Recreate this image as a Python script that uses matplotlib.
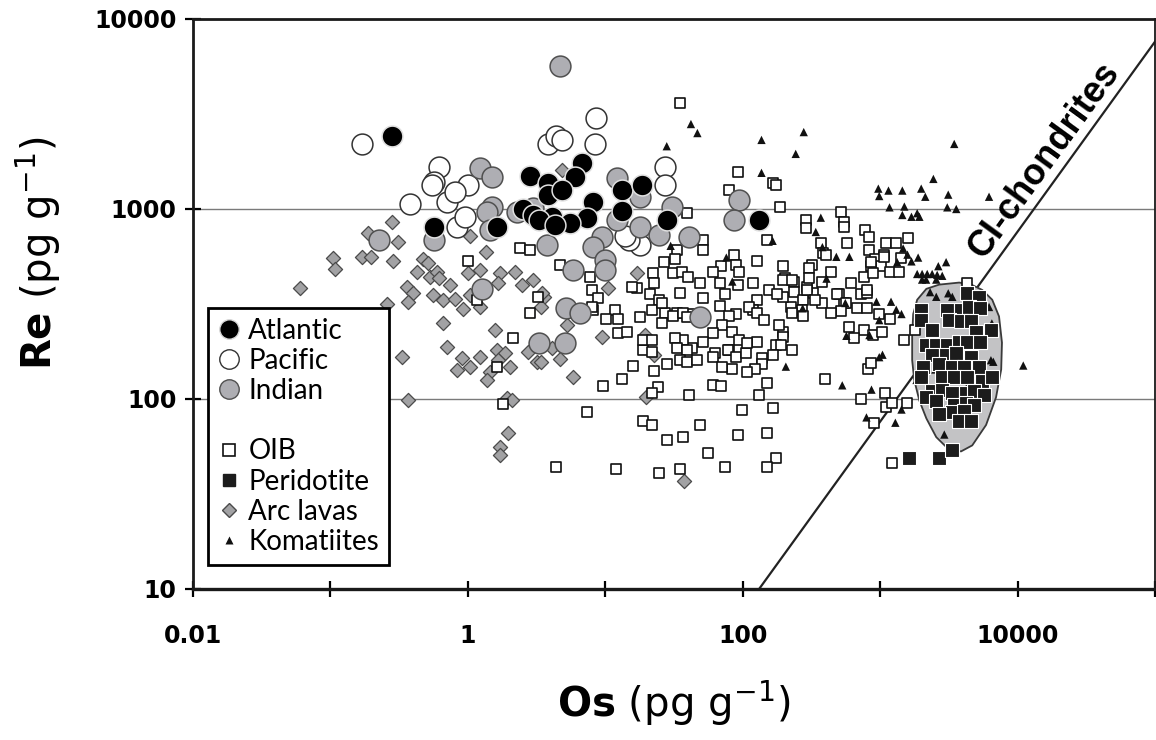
import matplotlib
matplotlib.use("Agg")
import matplotlib.pyplot as plt
from matplotlib.lines import Line2D
from matplotlib.patches import Polygon
from matplotlib.ticker import FixedLocator, FixedFormatter, NullLocator

# ---------------- data (Os, Re in pg/g) ----------------
atlantic_os = [0.28, 0.57, 1.62, 2.81, 3.8, 3.8, 2.5, 2.96, 4.1, 6.8, 6.0, 4.85, 8.1, 7.3, 5.5,
               13.2, 18.6, 13.2, 28, 132, 3.3, 4.3]
atlantic_re = [2430, 800, 800, 1500, 1370, 1190, 1000, 930, 910, 1750, 1470, 1260, 1090, 900, 840,
               1260, 1330, 980, 870, 870, 870, 820]

pacific_os = [0.17, 0.62, 0.57, 0.55, 1.0, 0.71, 0.38, 0.83, 0.95, 3.8, 4.4, 4.85, 8.6, 8.4,
              27, 27, 18, 15, 14, 0.8]
pacific_re = [2200, 1660, 1390, 1330, 1330, 1090, 1060, 800, 910, 2200, 2410, 2310, 3010, 2200,
              1660, 1330, 650, 690, 720, 1230]

indian_os = [4.65, 0.225, 1.22, 1.51, 1.51, 1.37, 1.44, 0.57, 3.74, 1.26, 2.26, 12.2, 18, 12.2,
             18, 9.5, 8.1, 10, 5.8, 10, 41, 24.8, 30.5, 94, 87, 5.2, 6.5, 49, 3.3, 5.05, 2.96]
indian_re = [5660, 690, 1640, 1480, 1020, 970, 775, 690, 650, 380, 960, 1450, 1160, 870,
             800, 710, 630, 540, 480, 480, 710, 730, 1020, 1110, 870, 300, 284, 270, 198, 198, 1010]

arc_os = [0.060, 0.104, 0.108, 0.17, 0.197, 0.28, 0.31, 0.187, 0.285, 0.43, 0.47, 0.51, 0.53,
          0.60, 0.62, 0.74, 0.36, 0.40, 0.365, 0.26, 0.555, 0.66, 0.80, 0.92, 1.0, 1.22, 1.35,
          1.03, 1.70, 2.19, 2.46, 2.96, 1.66, 1.03, 1.22, 3.6, 3.4, 0.66, 0.33, 0.71, 0.90, 0.83,
          1.03, 1.22, 1.57, 1.62, 1.85, 1.66, 1.44, 1.37, 2.01, 2.72, 3.2, 0.365, 1.93, 2.10,
          1.97, 1.70, 1.70, 4.1, 4.85, 16.9, 10.4, 3.45, 9.5, 19.3, 22.8, 5.8, 4.65, 5.3, 19.7,
          37.6, 3.4]
arc_re = [384, 552, 483, 559, 559, 855, 670, 748, 532, 466, 546, 520, 439,
          466, 434, 398, 388, 361, 324, 316, 353, 332, 336, 298, 460, 480, 594,
          721, 460, 466, 398, 423, 408, 353, 305, 344, 305, 251, 166, 188, 164, 142,
          147, 166, 231, 181, 175, 160, 139, 126, 147, 177, 157, 99, 101, 99,
          66, 56, 51, 185, 1600, 460, 384, 361, 212, 217, 171, 131, 162, 245, 103,
          37, 157]

oib_os = [35, 93, 165, 176, 187, 39, 80, 522, 287, 287, 549, 549, 149, 51, 51, 33.5, 32, 26.6,
          22.4, 781, 836, 578, 373, 386, 407, 1110, 1310, 1600, 836, 1070, 911, 2.39, 2.82, 1.0,
          4.66, 87, 126, 70, 90,
          865, 1020, 1170, 1380, 1430, 1070, 865, 442, 317, 195, 618, 768, 880, 730, 808, 505,
          549, 380, 322, 296, 238, 202, 238, 273, 226, 268, 195, 306, 306, 380, 292, 333, 488,
          568, 522, 442, 808, 681, 808, 985, 1170, 4300, 16.9, 15.6, 22.8, 21, 24.8, 30.9, 36,
          39.7, 34.8, 48.5, 51, 60.5, 67.9, 73.7, 94.5, 91.8, 118, 156, 126, 195, 230, 178,
          7.71, 8.0, 8.8, 3.23, 1.16,
          8.1, 11.7, 22, 27, 33, 42.4, 90, 118, 10.2, 12.3, 17.8, 25.7, 25.7, 30.9, 36.6, 39,
          67.9, 80, 71, 60.5, 84, 112, 128, 144, 230, 195, 195, 176, 126, 94.5, 80, 62.5, 51,
          43, 36.6, 32, 33.5, 39, 12.3, 14.5, 18.7, 21.7, 18.7, 21.7, 2.82, 8.0, 2.12, 597, 768,
          650, 880, 1040, 273, 1500, 1800, 190, 230, 185, 2830,
          34.8, 39, 46.8, 60.5, 77.5, 90, 106.5, 108, 139, 165, 137, 122, 108, 84, 71, 28.3,
          22.8, 15.8, 13.2, 9.6, 1.62, 24, 21.7, 41, 60.5, 70, 151, 132, 822, 865, 400, 730,
          1090, 1110, 1220, 1580,
          1.80, 7.33, 18.7, 21.7, 28, 36.6, 48.5, 55.5, 99.6, 165, 93, 151, 176, 149, 73.7,
          34.8, 24.8, 11.9, 4.36, 895, 1220]
oib_re = [3600, 1560, 1370, 1330, 1020, 950, 1260, 970, 870, 790, 855, 800, 690, 690, 610, 610,
          545, 525, 460, 775, 710, 665, 665, 590, 575, 665, 665, 700, 610, 575, 545, 620, 610,
          530, 510, 575, 530, 500, 510,
          500, 500, 465, 465, 555, 560, 525, 465, 510, 500, 410, 440, 460, 355, 360, 355,
          320, 320, 360, 390, 415, 435, 365, 333, 305, 295, 345, 490, 435, 415, 375, 333, 355,
          320, 290, 285, 375, 300, 300, 280, 265, 410, 385, 390, 410, 355, 333, 460, 465,
          440, 360, 410, 340, 465, 410, 355, 465, 400, 410, 375, 333, 425, 425, 355,
          440, 375, 340, 345, 333,
          295, 295, 295, 285, 285, 280, 280, 295, 265, 265, 270, 320, 250, 272, 285, 270,
          310, 272, 245, 222, 225, 305, 285, 260, 285, 225, 212, 193, 200, 205, 181, 175, 200,
          185, 205, 210, 185, 181, 222, 225, 181, 177, 205, 205, 285, 305, 210, 240, 232,
          210, 217, 225, 272, 205, 230, 193, 181, 245, 152,
          160, 157, 160, 166, 181, 166, 175, 198, 164, 171, 152, 143, 138, 143, 147, 152,
          140, 150, 128, 117, 147, 115, 108, 105, 119, 117, 122, 105, 143, 155, 128, 100,
          108, 91, 95, 95,
          94, 85, 77, 73, 61, 63, 73, 52, 88, 90, 65, 66, 49, 44, 44,
          43, 41, 43, 44, 75, 46]

peridotite_os = [4300, 5260, 1990, 1990, 3080, 3880, 4450, 5350, 2370, 3180, 3880, 4600, 5000,
                 6430, 2170, 2560, 3080, 3760, 4300, 5350, 2370, 3030, 3580, 4600, 2060, 2690,
                 3350, 4090, 5260, 1990, 2830, 3460, 4300, 5530, 6540, 2370, 2830, 3350, 4230,
                 4840, 5720, 2170, 2560, 3460, 4230, 4840, 3350, 4090, 2690, 3760, 4600, 1630,
                 2690, 3350]
peridotite_re = [360, 345, 295, 260, 295, 295, 305, 300, 232, 260, 257, 257, 225,
                 232, 193, 193, 193, 200, 200, 200, 171, 171, 175, 166, 148, 152,
                 148, 147, 148, 130, 130, 131, 130, 124, 131, 110, 112, 108, 108,
                 110, 105, 102, 98, 93, 95, 93, 85, 86, 83, 77, 77, 49,
                 49, 54]

komatiite_os = [42, 46.8, 28, 137, 278, 243, 137, 3460, 2440, 970, 1150, 1450, 1990, 2130,
                3130, 6200, 985, 1170, 1500, 3080, 3580, 1450, 1860, 1690, 1930, 370, 340, 380,
                165, 29.9, 76, 84, 480, 597, 1470, 1580, 1330, 1690, 1890, 3020, 2650, 1860,
                2020, 2200, 2390, 2600, 2830, 2020, 2160, 2560, 2310, 2560, 3130, 3350, 407,
                558, 940, 1200, 1310, 1430, 985, 836, 568, 1040, 985, 273, 206, 530, 865, 795,
                1290, 1430, 11000, 2930, 6660, 6200, 6500, 6400, 1840, 2520, 4450, 4230]
komatiite_re = [2800, 2510, 2140, 2310, 2540, 1950, 1550, 2200, 1440, 1280, 1250, 1250, 1280,
                1160, 1190, 1160, 1170, 1020, 1030, 1020, 1000, 930, 950, 910, 910, 900, 757,
                630, 680, 640, 555, 415, 560, 560, 620, 575, 525, 530, 555, 525, 500, 455,
                455, 455, 455, 450, 445, 425, 425, 425, 365, 345, 360, 345, 430,
                320, 325, 325, 295, 280, 260, 217, 215, 171, 166, 300, 148, 118, 112, 80,
                75, 88, 150, 65, 157, 305, 250, 160, 126, 143, 122, 166]

# Peridotite field outline (Os, Re)
field_os = [3760, 2690, 2170, 1860, 1740, 1710, 1710, 1770, 1930, 2170, 2560, 3180, 3880, 4680,
            5900, 6970, 7600, 7700, 7330, 6540, 5530, 4600]
field_re = [410, 400, 380, 333, 280, 217, 160, 126, 98, 79, 63, 54, 53, 57,
            73, 102, 143, 198, 272, 333, 375, 400]

ci_re_os_ratio = 0.076   # CI-chondrite Re/Os
x_ticks = [0.01, 0.1, 1, 10, 100, 1000, 10000, 100000]
x_labels = ["0.01", "", "1", "", "100", "", "10000", ""]
y_ticks = [10, 100, 1000, 10000]
y_labels = ["10", "100", "1000", "10000"]

# ---------------- figure ----------------
W, H = 1156, 740
fig = plt.figure(figsize=(W / 100, H / 100), dpi=100)
ax = fig.add_axes([193 / W, 1 - 589 / H, (1155 - 193) / W, (589 - 19) / H])
ax.set_xscale("log")
ax.set_yscale("log")
ax.set_xlim(0.01, 1e5)
ax.set_ylim(10, 1e4)

for yv in (100, 1000):
    ax.axhline(yv, color="#7a7a7a", lw=1.0, zorder=0.5)

# CI chondrite line
ci_os = [10 / ci_re_os_ratio, 2e5]
ax.plot(ci_os, [v * ci_re_os_ratio for v in ci_os], color="#222222", lw=1.6, zorder=1)

# peridotite field
ax.add_patch(Polygon(list(zip(field_os, field_re)), closed=True, facecolor="#c3c3c5",
                     edgecolor="#3a3a3a", lw=1.3, zorder=1.2))

ax.scatter(arc_os, arc_re, marker="D", s=52, facecolor="#a2a2a4", edgecolor="#4a4a4a",
           lw=0.9, zorder=2)
ax.scatter(oib_os, oib_re, marker="s", s=62, facecolor="white", edgecolor="#111111",
           lw=1.2, zorder=3)
ax.scatter(komatiite_os, komatiite_re, marker="^", s=36, facecolor="#111111",
           edgecolor="none", zorder=3.5)
ax.scatter(peridotite_os, peridotite_re, marker="s", s=110, facecolor="#1c1c1c",
           edgecolor="white", lw=0.8, zorder=4)
ax.scatter(pacific_os, pacific_re, marker="o", s=225, facecolor="white", edgecolor="#333333",
           lw=1.1, zorder=5)
ax.scatter(indian_os, indian_re, marker="o", s=225, facecolor="#aeaeb3", edgecolor="#505050",
           lw=1.1, zorder=5.5)
ax.scatter(atlantic_os, atlantic_re, marker="o", s=225, facecolor="black", edgecolor="#e0e0e0",
           lw=1.1, zorder=6)

ax.text(15600, 1810, "CI-chondrites", rotation=54, rotation_mode="anchor",
        ha="center", va="center", fontsize=26, fontweight="bold",
        family="Liberation Sans", zorder=7)

# ticks
ax.xaxis.set_major_locator(FixedLocator(x_ticks))
ax.xaxis.set_major_formatter(FixedFormatter(x_labels))
ax.xaxis.set_minor_locator(NullLocator())
ax.yaxis.set_major_locator(FixedLocator(y_ticks))
ax.yaxis.set_major_formatter(FixedFormatter(y_labels))
ax.yaxis.set_minor_locator(NullLocator())
ax.tick_params(axis="x", direction="inout", length=11, width=1.6, pad=20, labelsize=17)
ax.tick_params(axis="y", direction="inout", length=12, width=1.6, pad=6, labelsize=17)
for lab in ax.get_xticklabels() + ax.get_yticklabels():
    lab.set_fontweight("bold")

for side, lw in (("left", 2.0), ("bottom", 2.4), ("top", 2.0), ("right", 1.3)):
    ax.spines[side].set_linewidth(lw)
    ax.spines[side].set_color("#1a1a1a")

ax.set_xlabel(r"$\mathbf{Os}$ $\mathrm{(pg\ g^{-1})}$", fontsize=29, labelpad=22)
ax.set_ylabel(r"$\mathbf{Re}$ $\mathrm{(pg\ g^{-1})}$", fontsize=29)
ax.yaxis.set_label_coords(-0.135, 0.59)

# legend
handles = [
    Line2D([], [], ls="none", marker="o", ms=14, mfc="black", mec="#d8d8d8"),
    Line2D([], [], ls="none", marker="o", ms=14, mfc="white", mec="#333333"),
    Line2D([], [], ls="none", marker="o", ms=14, mfc="#aeaeb3", mec="#505050"),
    Line2D([], [], ls="none", marker=None),
    Line2D([], [], ls="none", marker="s", ms=8, mfc="white", mec="#111111", mew=1.2),
    Line2D([], [], ls="none", marker="s", ms=9, mfc="#1c1c1c", mec="#1c1c1c"),
    Line2D([], [], ls="none", marker="D", ms=7, mfc="#a2a2a4", mec="#4a4a4a"),
    Line2D([], [], ls="none", marker="^", ms=6, mfc="#111111", mec="none"),
]
labels = ["Atlantic", "Pacific", "Indian", " ", "OIB", "Peridotite", "Arc lavas", "Komatiites"]
leg = ax.legend(handles, labels, loc="upper left", bbox_to_anchor=(0.0156, 0.493),
                frameon=True, fancybox=False, edgecolor="black", framealpha=1,
                borderpad=0.35, handlelength=0.8, handletextpad=0.3, labelspacing=0.15,
                borderaxespad=0, prop={"family": "Lato", "size": 20})
leg.get_frame().set_linewidth(2.0)
leg.set_zorder(10)

fig.savefig("out.png", dpi=100)
